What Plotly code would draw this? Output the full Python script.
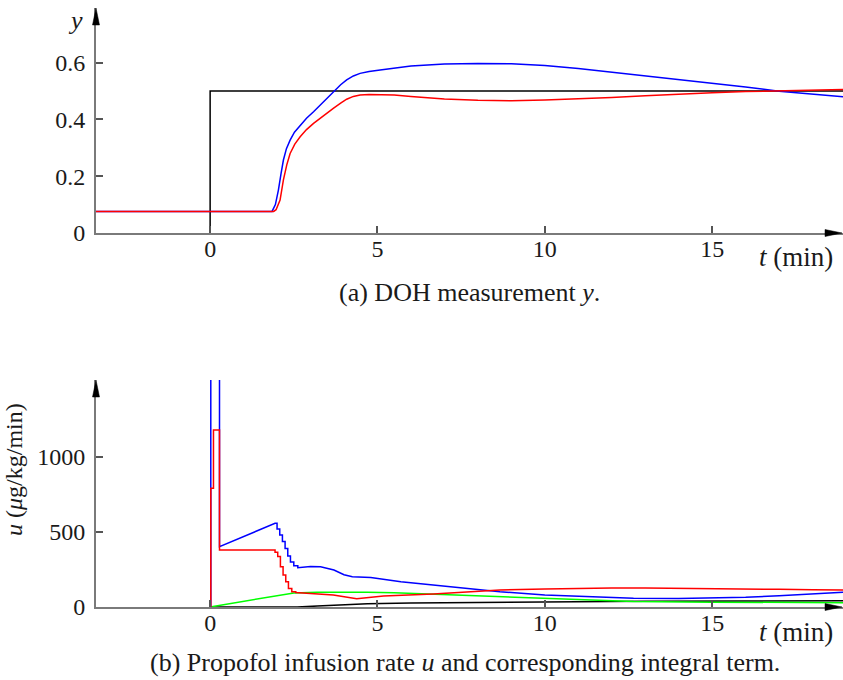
import plotly.graph_objects as go

# ---------------- data: (a) DOH measurement y ----------------
t_ref = [0, 0, 18.91]
y_ref = [0, 0.5, 0.5]

t_y_blue = [-3.41, 1.85, 1.95, 2.04, 2.12, 2.19, 2.28, 2.39, 2.52, 2.69, 2.88, 3.09, 3.4, 3.68, 3.9, 4.08, 4.28, 4.48, 4.75, 5.08, 5.5,
            6, 7, 8, 9, 10, 11, 12, 13, 14, 15, 16, 17, 18, 18.91]
y_blue = [0.076, 0.076, 0.10, 0.151, 0.21, 0.257, 0.297, 0.327, 0.355, 0.380, 0.404, 0.427, 0.464, 0.498, 0.522, 0.539, 0.553, 0.562, 0.569, 0.574, 0.581,
          0.588, 0.595, 0.597, 0.596, 0.590, 0.579, 0.566, 0.553, 0.540, 0.528, 0.514, 0.499, 0.488, 0.480]

t_y_red = [-3.41, 1.90, 1.97, 2.03, 2.09, 2.19, 2.29, 2.39, 2.53, 2.69, 2.88, 3.09, 3.4, 3.68, 3.9, 4.08, 4.28, 4.48, 4.75, 5.08, 5.5,
           6, 7, 8, 9, 10, 11, 12, 13, 14, 15, 16, 17, 18, 18.91]
y_red = [0.076, 0.076, 0.082, 0.097, 0.116, 0.187, 0.24, 0.28, 0.313, 0.339, 0.364, 0.386, 0.415, 0.439, 0.457, 0.471, 0.481, 0.486, 0.488, 0.488, 0.486,
         0.481, 0.472, 0.467, 0.466, 0.468, 0.472, 0.477, 0.483, 0.489, 0.494, 0.498, 0.501, 0.503, 0.505]

# ---------------- data: (b) propofol infusion rate u ----------------
t_u_blue = [0, 0.02, 0.02, 0.28, 0.28, 1.94, 2.0, 2.0, 2.08, 2.08, 2.16, 2.16, 2.24, 2.24, 2.32, 2.32, 2.40, 2.40, 2.50, 2.50,
            2.62, 2.62, 3.0, 3.3, 3.7, 4.0, 4.25, 4.8, 5.7, 7.2, 8.66, 10, 11, 12.65, 14, 15, 16, 17, 18, 18.91]
u_blue = [0, 0, 2500, 2500, 402, 558, 558, 520, 520, 480, 480, 436, 436, 390, 390, 340, 340, 300, 300, 275,
          275, 262, 270, 268, 247, 215, 202, 196, 169, 135, 102, 80, 70, 58, 56, 58, 65, 75, 86, 98]

t_u_red = [0, 0.02, 0.02, 0.1, 0.1, 0.28, 0.28, 1.94, 1.94, 2.02, 2.02, 2.1, 2.1, 2.18, 2.18, 2.26, 2.26, 2.34, 2.34, 2.44, 2.44,
           2.56, 2.56, 3.0, 3.68, 4.38, 5.18, 6.67, 8.66, 10, 11, 12, 13, 14, 15, 16, 17, 18, 18.91]
u_red = [0, 0, 791, 791, 1180, 1180, 380, 380, 365, 365, 336, 336, 269, 269, 213, 213, 169, 169, 124, 124, 102,
         102, 96, 90, 80, 55, 73, 87, 113, 120, 124, 126, 126, 125, 123, 121, 118, 115, 113]

t_u_green = [0, 2.5, 3.2, 4.0, 4.7, 5.5, 6.7, 8.66, 10, 11, 12.65, 15, 18.91]
u_green = [0, 94, 99, 101, 99, 95, 85, 69, 58, 50, 36, 32, 29]

t_u_black = [0, 2.6, 3.2, 3.7, 4.7, 6, 8, 10, 13, 16, 18.91]
u_black = [0, 0, 6, 13, 22, 26, 30, 34, 38, 40, 42]

x_ticks = [0, 5, 10, 15]
y_ticks_a = [0, 0.2, 0.4, 0.6]
y_ticklabels_a = ["0", "0.2", "0.4", "0.6"]
y_ticks_b = [0, 500, 1000]
y_ticklabels_b = ["0", "500", "1000"]

# ---------------- figure ----------------
W, H = 843, 680
FONT = "Liberation Serif"
TXT = "#1a1a1a"
AX = "#7a7a7a"

def px_x(p):
    return p / W

def px_y(p):
    return (H - p) / H

fig = go.Figure()
lw = 1.5
fig.add_trace(go.Scatter(x=t_ref, y=y_ref, mode="lines", line=dict(color="black", width=lw), xaxis="x", yaxis="y"))
fig.add_trace(go.Scatter(x=t_y_blue, y=y_blue, mode="lines", line=dict(color="#0000ff", width=lw), xaxis="x", yaxis="y"))
fig.add_trace(go.Scatter(x=t_y_red, y=y_red, mode="lines", line=dict(color="#ff0000", width=lw), xaxis="x", yaxis="y"))

fig.add_trace(go.Scatter(x=t_u_black, y=u_black, mode="lines", line=dict(color="black", width=lw), xaxis="x2", yaxis="y2"))
fig.add_trace(go.Scatter(x=t_u_green, y=u_green, mode="lines", line=dict(color="#00ff00", width=lw), xaxis="x2", yaxis="y2"))
fig.add_trace(go.Scatter(x=t_u_blue, y=u_blue, mode="lines", line=dict(color="#0000ff", width=lw), xaxis="x2", yaxis="y2"))
fig.add_trace(go.Scatter(x=t_u_red, y=u_red, mode="lines", line=dict(color="#ff0000", width=lw), xaxis="x2", yaxis="y2"))

xdom = [px_x(96), 1.0]
xr = [-3.41, 18.91]
common_x = dict(range=xr, domain=xdom, showline=True, linecolor=AX, linewidth=2,
                ticks="inside", ticklen=7, tickcolor="#555", tickwidth=1.5,
                tickvals=x_ticks, showgrid=False, zeroline=False, automargin=False,
                ticklabelstandoff=-7,
                tickfont=dict(family=FONT, size=24, color=TXT), fixedrange=True)
common_y = dict(showline=True, linecolor=AX, linewidth=2, ticks="inside", ticklen=7,
                tickcolor="#555", tickwidth=1.5, showgrid=False, zeroline=False, automargin=False,
                ticklabelstandoff=4,
                tickfont=dict(family=FONT, size=24, color=TXT), fixedrange=True)

fig.update_layout(
    template="none",
    width=W, height=H, margin=dict(l=0, r=0, t=0, b=0, autoexpand=False),
    paper_bgcolor="white", plot_bgcolor="white", showlegend=False,
    xaxis=dict(anchor="y", **common_x),
    yaxis=dict(anchor="x", domain=[px_y(233), px_y(8)], range=[0, 225 / 284],
               tickvals=y_ticks_a, ticktext=y_ticklabels_a, **common_y),
    xaxis2=dict(anchor="y2", **common_x),
    yaxis2=dict(anchor="x2", domain=[px_y(607), px_y(380)], range=[0, 227 / 0.15],
                tickvals=y_ticks_b, ticktext=y_ticklabels_b, **common_y),
)

# arrowheads
shapes = []
for ytop, ybot in [(8, 233), (380, 607)]:
    shapes.append(dict(type="path", xref="paper", yref="paper", xsizemode="pixel", ysizemode="pixel",
                       xanchor=px_x(96), yanchor=px_y(ytop),
                       path="M0,0 L-3.5,-17 L3.5,-17 Z", fillcolor="black", line=dict(color="black", width=0.5)))
    shapes.append(dict(type="path", xref="paper", yref="paper", xsizemode="pixel", ysizemode="pixel",
                       xanchor=1.0, yanchor=px_y(ybot),
                       path="M-1,0 L-18,3.5 L-18,-3.5 Z", fillcolor="black", line=dict(color="black", width=0.5)))
fig.update_layout(shapes=shapes)

ann = []
def txt(x, y, s, size=26, angle=0, xa="center"):
    ann.append(dict(x=px_x(x), y=px_y(y), xref="paper", yref="paper", text=s, showarrow=False,
                    font=dict(family=FONT, size=size, color=TXT), textangle=angle,
                    xanchor=xa, yanchor="middle"))

txt(75, 20, "<i>y</i>")
txt(835, 257, "<i>t</i> (min)", size=27, xa="right")
txt(835, 632, "<i>t</i> (min)", size=27, xa="right")
ann.append(dict(x=0, y=px_y(470), xref="paper", yref="paper", text="<i>u</i> (<i>μ</i>g/kg/min)",
                showarrow=False, font=dict(family=FONT, size=24, color=TXT), textangle=-90,
                xanchor="left", yanchor="middle", borderpad=0))
txt(469, 292, "(a) DOH measurement <i>y</i>.", size=26)
txt(465, 662, "(b) Propofol infusion rate <i>u</i> and corresponding integral term.", size=26)
fig.update_layout(annotations=ann)

fig.write_html("out.html", config={"displayModeBar": False},
               post_script="document.body.style.margin='0';document.body.style.padding='0';")
